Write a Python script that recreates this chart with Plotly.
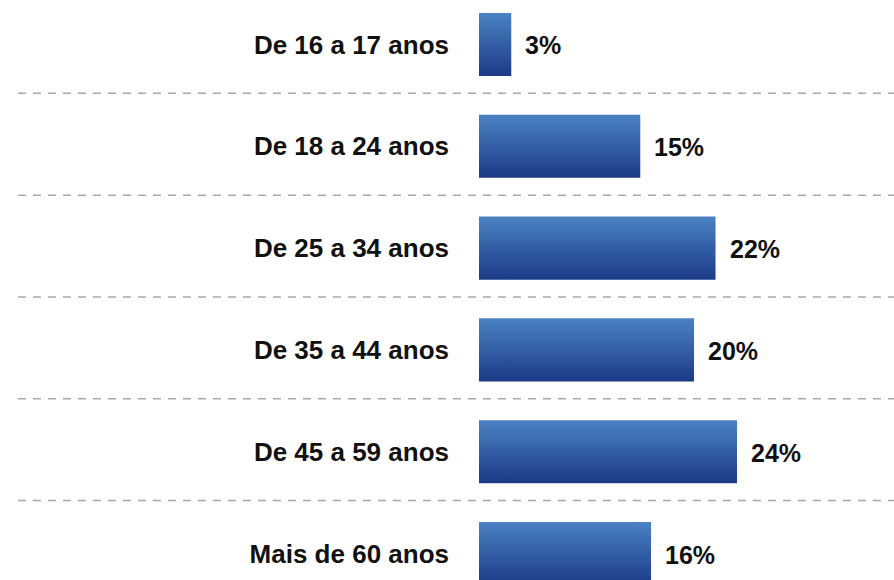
import plotly.graph_objects as go

categories = ["De 16 a 17 anos", "De 18 a 24 anos", "De 25 a 34 anos",
              "De 35 a 44 anos", "De 45 a 59 anos", "Mais de 60 anos"]
values = [3, 15, 22, 20, 24, 16]
value_labels = ["3%", "15%", "22%", "20%", "24%", "16%"]

n = len(categories)
ypos = [n - 1 - i for i in range(n)]  # top row first
half = 0.31

fig = go.Figure()
for v, y in zip(values, ypos):
    fig.add_trace(go.Scatter(
        x=[0, v, v, 0, 0],
        y=[y - half, y - half, y + half, y + half, y - half],
        mode="lines", line=dict(width=0),
        fill="toself",
        fillgradient=dict(type="vertical",
                          colorscale=[[0, "#1b3a86"], [1, "#4b82c3"]]),
        hoverinfo="skip", showlegend=False))

for v, y, t in zip(values, ypos, value_labels):
    fig.add_annotation(x=v, y=y, text=t, showarrow=False, xanchor="left",
                       xshift=12, yshift=-1,
                       font=dict(family="Liberation Sans, Arial", size=25,
                                 color="#111111", weight="bold"))

shapes = []
for k in range(n - 1):
    shapes.append(dict(type="line", xref="paper", yref="y",
                       x0=-1.111, x1=1, y0=k + 0.52, y1=k + 0.52,
                       line=dict(color="#a8a8a8", width=1.5, dash="8px,7px"),
                       layer="below"))

fig.update_layout(
    width=894, height=580,
    margin=dict(l=479, r=0, t=0, b=0),
    paper_bgcolor="white", plot_bgcolor="white",
    shapes=shapes,
    xaxis=dict(range=[0, 38.6], visible=False),
    yaxis=dict(range=[-0.26, 5.437], tickvals=ypos, ticktext=categories,
               showgrid=False, zeroline=False, showline=False, ticks="",
               ticklabelstandoff=29,
               tickfont=dict(family="Liberation Sans, Arial", size=26,
                             color="#111111", weight="bold")),
)

fig.write_html("out.html", config={"displayModeBar": False},
               post_script="document.body.style.margin='0';")
